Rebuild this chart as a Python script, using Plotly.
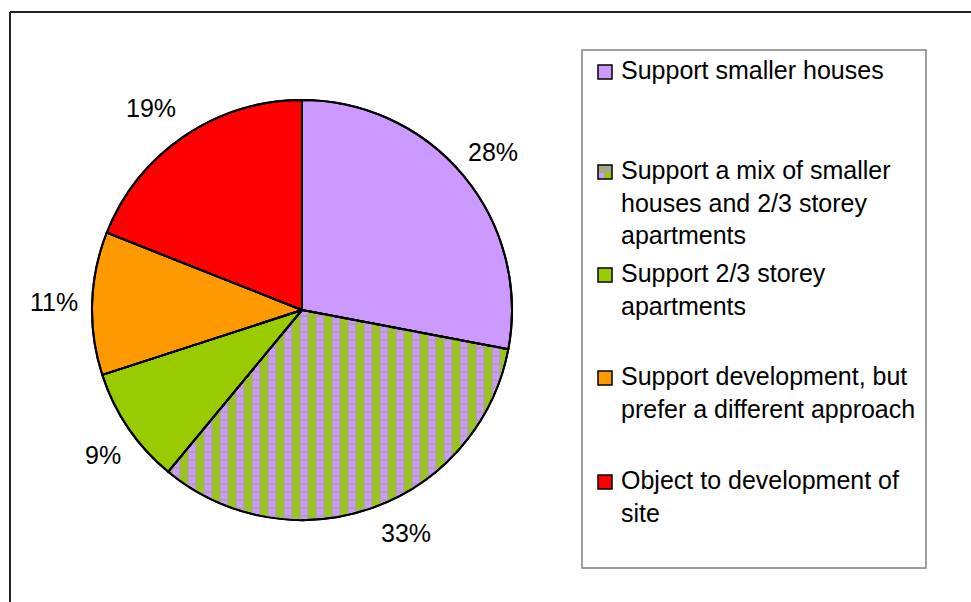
import math
import plotly.graph_objects as go

# Survey responses (percent of respondents)
categories = [
    "Support smaller houses",
    "Support a mix of smaller houses and 2/3 storey apartments",
    "Support 2/3 storey apartments",
    "Support development, but prefer a different approach",
    "Object to development of site",
]
legend_lines = [
    "Support smaller houses",
    "Support a mix of smaller<br>houses and 2/3 storey<br>apartments",
    "Support 2/3 storey<br>apartments",
    "Support development, but<br>prefer a different approach",
    "Object to development of<br>site",
]
values = [28, 33, 9, 11, 19]
colors = ["#CC99FF", "#99CC00", "#99CC00", "#FF9900", "#FF0000"]

W, H = 971, 602
FONT = "Arial, 'Liberation Sans', sans-serif"
FS = 25


def px(x):
    return x / W


def py(y):
    return 1 - y / H


# pie placement in pixels
cx, cy, r = 302, 310, 210
domain = dict(x=[px(cx - r), px(cx + r)], y=[py(cy + r), py(cy - r)])

fig = go.Figure()

# base pie: solid slices, the mixed slice as lilac/green columns
fig.add_trace(go.Pie(
    labels=categories,
    values=values,
    sort=False,
    direction="clockwise",
    rotation=0,
    domain=domain,
    marker=dict(
        colors=colors,
        line=dict(color="black", width=2),
        pattern=dict(
            shape=["", "|", "", "", ""],
            fgcolor=["#99CC00"] * 5,
            bgcolor=["#CC99FF"] * 5,
            size=16,
            solidity=0.5,
            fillmode="replace",
        ),
    ),
    textinfo="none",
    showlegend=False,
    hoverinfo="label+percent",
))

# overlay pie: grey lattice over the mixed slice only
fig.add_trace(go.Pie(
    labels=categories,
    values=values,
    sort=False,
    direction="clockwise",
    rotation=0,
    domain=domain,
    marker=dict(
        colors=["rgba(0,0,0,0)"] * 5,
        line=dict(color="black", width=2),
        pattern=dict(
            shape=["", "+", "", "", ""],
            fgcolor=["#A8A88A"] * 5,
            bgcolor=["rgba(0,0,0,0)"] * 5,
            size=8,
            solidity=0.35,
            fillmode="replace",
        ),
    ),
    textinfo="none",
    showlegend=False,
    hoverinfo="skip",
))

shapes = []
annotations = []

# percentage labels just outside each slice, at its mid-angle,
# with small per-label nudges (px) to keep them clear of the rim
label_r = 248
nudge = [(0, 0), (20, -10), (6, 6), (0, 0), (-12, 3)]
cum = 0.0
total = sum(values)
for v, (nx, ny) in zip(values, nudge):
    mid = (cum + v / 2) / total * 2 * math.pi
    cum += v
    lx = cx + label_r * math.sin(mid) + nx
    ly = cy - label_r * math.cos(mid) + ny
    annotations.append(dict(
        xref="paper", yref="paper", x=px(lx), y=py(ly),
        xanchor="center", yanchor="middle",
        text=f"{v}%", showarrow=False,
        font=dict(family=FONT, size=FS, color="black"),
    ))

# chart frame (top and left edges)
shapes.append(dict(type="line", xref="paper", yref="paper",
                   x0=px(10), x1=1, y0=py(12), y1=py(12),
                   line=dict(color="#222222", width=2)))
shapes.append(dict(type="line", xref="paper", yref="paper",
                   x0=px(10), x1=px(10), y0=py(12), y1=0,
                   line=dict(color="#222222", width=2)))

# legend box
shapes.append(dict(type="rect", xref="paper", yref="paper",
                   x0=px(582), x1=px(926), y0=py(568), y1=py(50),
                   line=dict(color="#808080", width=1.5), fillcolor="white"))

entry_y = [72, 172, 275, 378, 482]
sw = 14
for i, (lab, y) in enumerate(zip(legend_lines, entry_y)):
    x0, y0 = 598, y - sw / 2
    if i == 1:
        shapes.append(dict(type="rect", xref="paper", yref="paper",
                           x0=px(x0), x1=px(x0 + sw), y0=py(y0 + sw), y1=py(y0),
                           line=dict(width=0), fillcolor="#A8A88A"))
        shapes.append(dict(type="rect", xref="paper", yref="paper",
                           x0=px(x0), x1=px(x0 + 6), y0=py(y0 + sw), y1=py(y0 + 8),
                           line=dict(width=0), fillcolor="#CC99FF"))
        shapes.append(dict(type="rect", xref="paper", yref="paper",
                           x0=px(x0 + 7), x1=px(x0 + sw), y0=py(y0 + sw), y1=py(y0 + 8),
                           line=dict(width=0), fillcolor="#99CC00"))
        shapes.append(dict(type="rect", xref="paper", yref="paper",
                           x0=px(x0), x1=px(x0 + sw), y0=py(y0 + sw), y1=py(y0),
                           line=dict(color="black", width=1.5), fillcolor="rgba(0,0,0,0)"))
    else:
        shapes.append(dict(type="rect", xref="paper", yref="paper",
                           x0=px(x0), x1=px(x0 + sw), y0=py(y0 + sw), y1=py(y0),
                           line=dict(color="black", width=1.5), fillcolor=colors[i]))
    annotations.append(dict(
        xref="paper", yref="paper", x=px(619), y=py(y - 18),
        xanchor="left", yanchor="top", align="left",
        text=lab, showarrow=False,
        font=dict(family=FONT, size=FS, color="black"),
    ))

fig.update_layout(
    width=W, height=H,
    margin=dict(l=0, r=0, t=0, b=0),
    paper_bgcolor="white",
    plot_bgcolor="white",
    shapes=shapes,
    annotations=annotations,
    showlegend=False,
)

fig.write_html("out.html")
